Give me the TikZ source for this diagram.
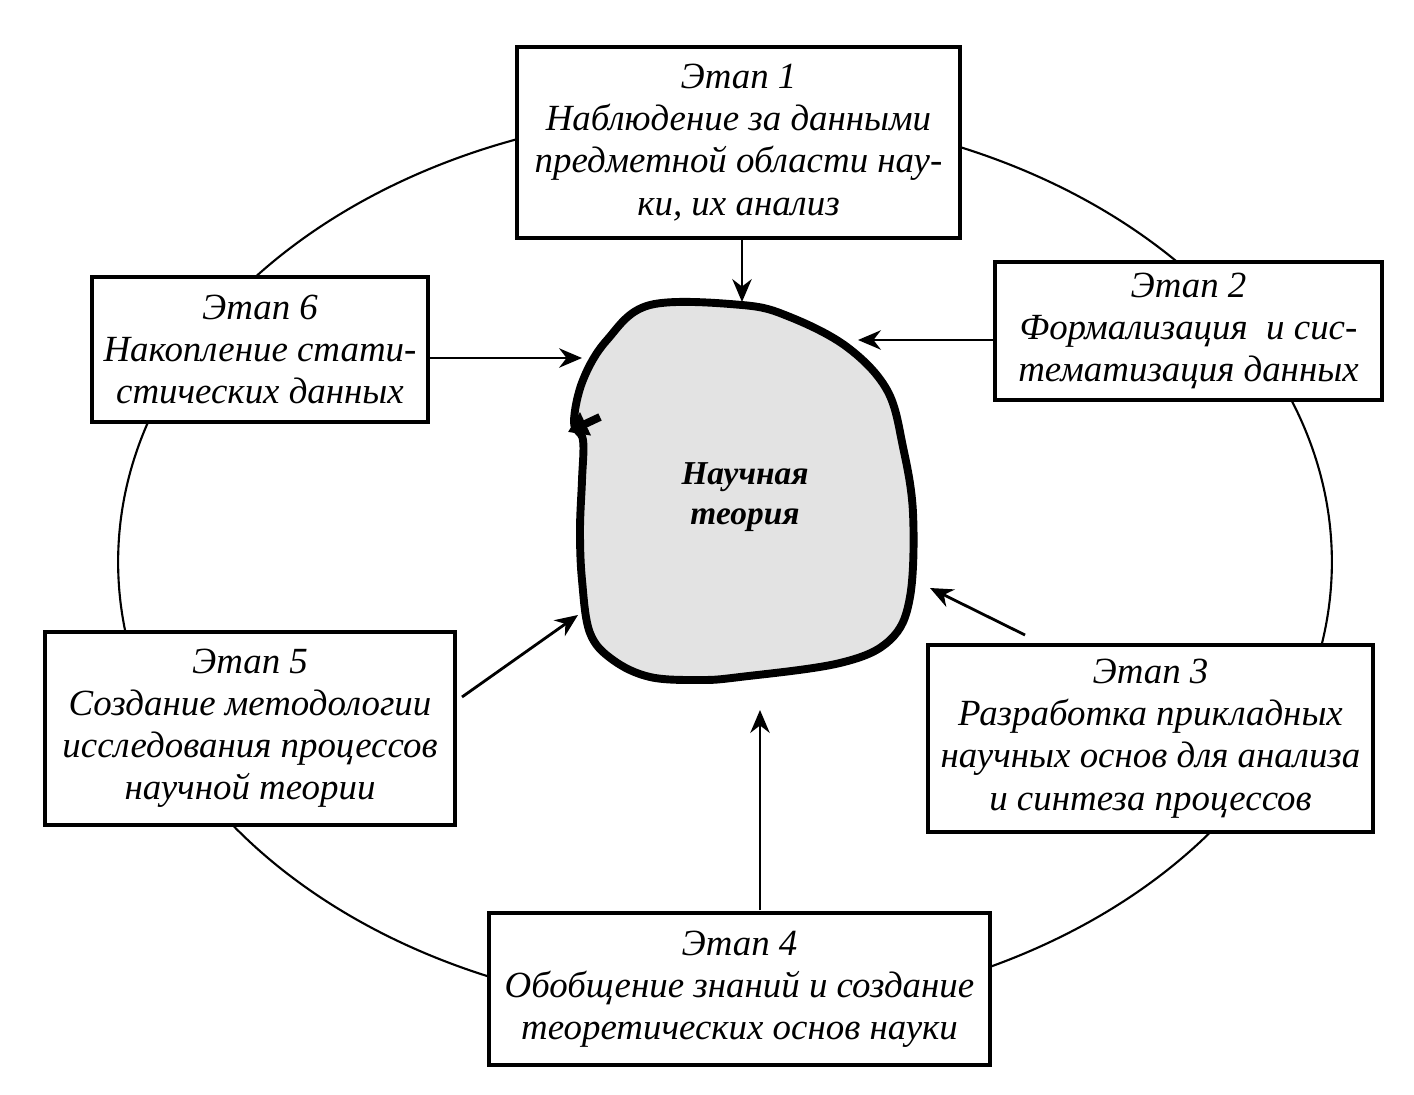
\documentclass[tikz,border=0pt]{standalone}
\usepackage{fontspec}
\setmainfont{Liberation Serif}
\usetikzlibrary{arrows.meta}
\begin{document}
\begin{tikzpicture}[x=0.02cm,y=-0.02cm,
  stagebox/.style={draw=black,line width=2pt,fill=white,inner sep=0pt,outer sep=0pt,
    align=center,font=\itshape\fontsize{21}{24}\selectfont},
  arr/.style={line width=1.6pt,-{Stealth[length=13pt,width=11pt]}},
  ring/.style={line width=1.2pt}]
\useasboundingbox (0,0) rectangle (1414,1095);
\fill[white] (0,0) rectangle (1414,1095);
% ring
\draw[ring] (725,562) ellipse [x radius=12.14cm, y radius=9cm];
% blob
\draw[line width=4.5pt,fill=gray!22,line join=round]
  plot[smooth cycle,tension=0.6] coordinates {
  (742,305) (790,317) (847,347) (887,390) (903,447) (913,513) (910,597)
  (890,640) (840,663) (740,677) (700,680) (650,677) (613,660) (590,633)
  (582,580) (580,530) (582,480) (583,440) (574,422) (583,380) (607,340) (650,305)};
\draw[line width=4.5pt,-{Triangle[length=11pt,width=14pt]}] (600,417) -- (568,432);
\node[font=\bfseries\itshape\fontsize{19}{23}\selectfont,align=center] (theory) at (745,497) {Научная\\теория};
% boxes
\node[stagebox,minimum width=8.86cm,minimum height=3.82cm] (b1) at (738.5,142.5)
  {Этап 1\\Наблюдение за данными\\предметной области нау-\\ки, их анализ};
\node[stagebox,minimum width=7.74cm,minimum height=2.76cm] (b2) at (1188.5,331)
  {Этап 2\\Формализация\enspace и сис-\\тематизация данных};
\node[stagebox,minimum width=8.90cm,minimum height=3.74cm] (b3) at (1150.5,738.5)
  {Этап 3\\Разработка прикладных\\научных основ для анализа\\и синтеза процессов};
\node[stagebox,minimum width=10.02cm,minimum height=3.04cm] (b4) at (739.5,989)
  {Этап 4\\Обобщение знаний и создание\\теоретических основ науки};
\node[stagebox,minimum width=8.20cm,minimum height=3.86cm] (b5) at (250,728.5)
  {Этап 5\\Создание методологии\\исследования процессов\\научной теории};
\node[stagebox,minimum width=6.72cm,minimum height=2.90cm] (b6) at (260,349.5)
  {Этап 6\\Накопление стати-\\стических данных};
% arrow ends
\coordinate (t1) at (742,302);
\coordinate (t2) at (858,340);
\coordinate (s3) at (1025,635);
\coordinate (t3) at (930,588);
\coordinate (s4) at (760,910);
\coordinate (t4) at (760,710);
\coordinate (s5) at (462,697);
\coordinate (t5) at (578,615);
\coordinate (t6) at (582,358);
\draw[arr] (b1.south -| t1) -- (t1);
\draw[arr] (b2.west |- t2) -- (t2);
\draw[arr] (s3) -- (t3);
\draw[arr] (s4) -- (t4);
\draw[arr] (s5) -- (t5);
\draw[arr] (b6.east |- t6) -- (t6);
\end{tikzpicture}
\end{document}
